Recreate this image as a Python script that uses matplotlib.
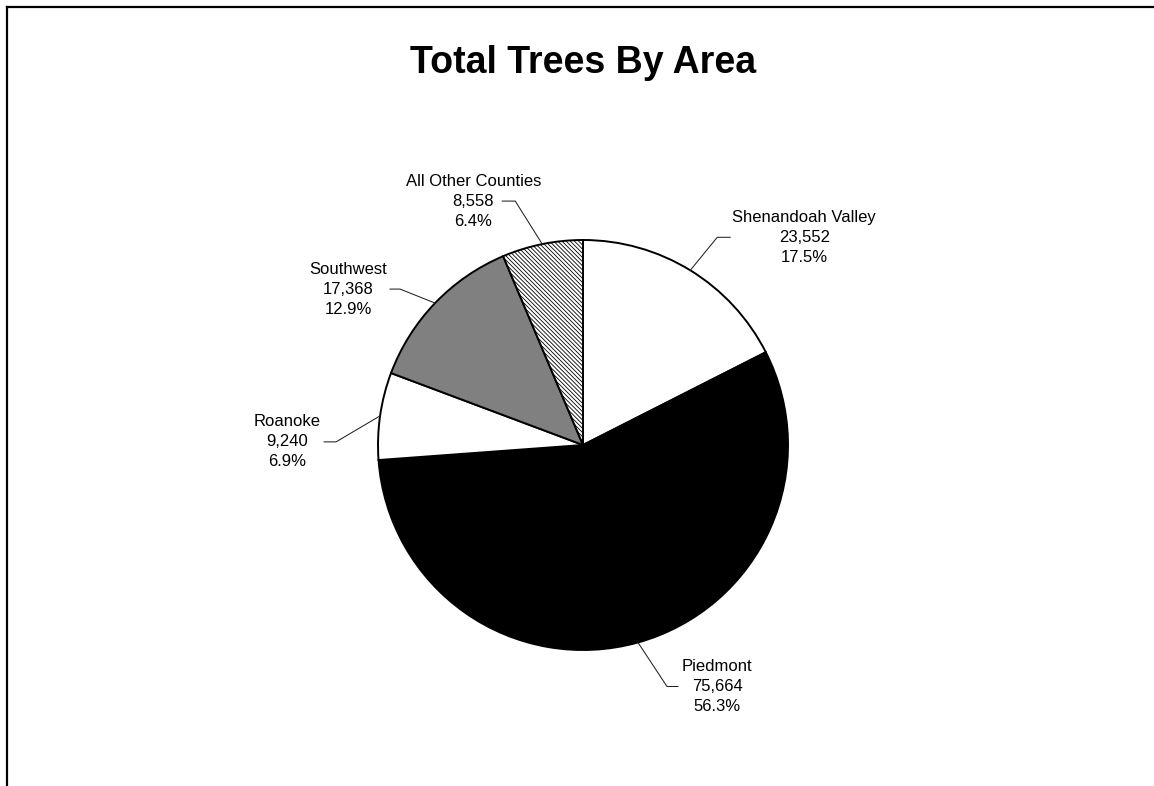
import numpy as np
import matplotlib
matplotlib.use('Agg')
import matplotlib.pyplot as plt
from matplotlib.lines import Line2D

plt.rcParams['font.family'] = ['Liberation Sans', 'DejaVu Sans']
plt.rcParams['hatch.linewidth'] = 0.6

# ==============================
# 数据
# ==============================
areas = ['Shenandoah Valley', 'Piedmont', 'Roanoke', 'Southwest', 'All Other Counties']
trees = [23552, 75664, 9240, 17368, 8558]
colors = ['white', 'black', 'white', '#808080', 'white']
hatches = [None, None, None, None, '\\' * 8]

# 引线样式: 折点偏移 (dx, dy)、水平段长度、文字对齐、文字偏移
leader_elbow = [(27, 33), (29, -44), (-44, -26), (-35, 14), (-27, 43)]
leader_hlen = [13, 11, -12, -10, -13]
text_ha = ['left', 'left', 'right', 'right', 'center']
text_gap = [2, 4, -3, -3, -29]

W, H = 1154, 786
center = (583, H - 445)
radius = 205

fig = plt.figure(figsize=(W / 100, H / 100), dpi=100)
ax = fig.add_axes([0, 0, 1, 1])

wedges, _ = ax.pie(trees, colors=colors, startangle=90, counterclock=False,
                   center=center, radius=radius, frame=True,
                   wedgeprops=dict(edgecolor='black', linewidth=1.4))
ax.set_xlim(0, W)
ax.set_ylim(0, H)
ax.axis('off')

for w, h in zip(wedges, hatches):
    if h:
        w.set_hatch(h)

total = sum(trees)
for i, w in enumerate(wedges):
    mid = np.deg2rad((w.theta1 + w.theta2) / 2)
    x0 = center[0] + radius * np.cos(mid)
    y0 = center[1] + radius * np.sin(mid)
    x1 = x0 + leader_elbow[i][0]
    y1 = y0 + leader_elbow[i][1]
    x2 = x1 + leader_hlen[i]
    ax.plot([x0, x1, x2], [y0, y1, y1], color='#222222', lw=0.75)
    label = f"{areas[i]}\n{trees[i]:,}\n{trees[i] / total * 100:.1f}%"
    ax.text(x2 + text_gap[i], y1, label, ha=text_ha[i], va='center',
            multialignment='center', fontsize=12, linespacing=1.42)

# 标题
fig.text(583 / W, 1 - 63 / H, 'Total Trees By Area', ha='center', va='center',
         fontsize=27, fontweight='bold')

# 图表外框 (只露出左边和上边)
fig.add_artist(Line2D([6.5 / W, 6.5 / W], [0, 1 - 6.5 / H], color='black', lw=1.6,
                      transform=fig.transFigure))
fig.add_artist(Line2D([6.5 / W, 1], [1 - 6.5 / H, 1 - 6.5 / H], color='black', lw=1.6,
                      transform=fig.transFigure))

fig.savefig('out.png', dpi=100, facecolor='white')
